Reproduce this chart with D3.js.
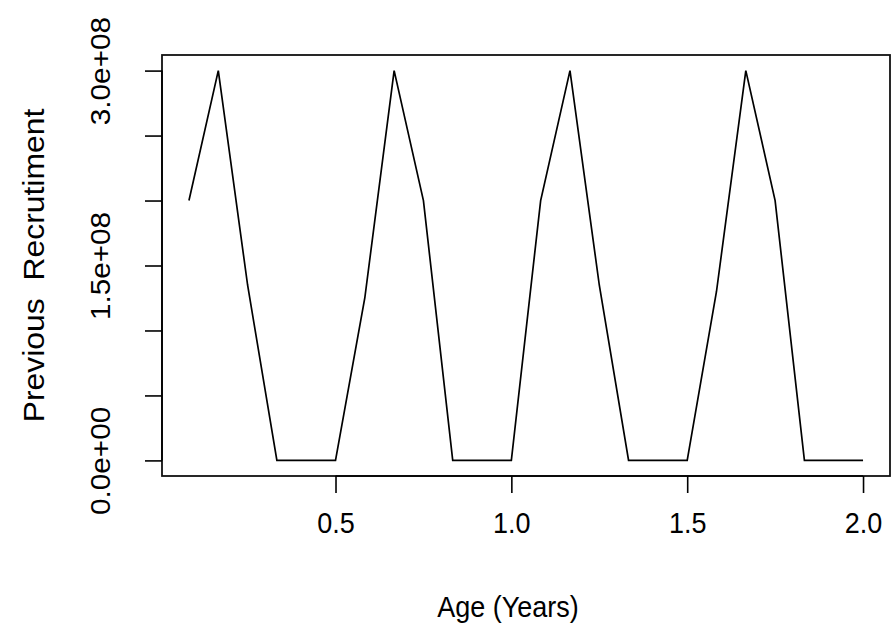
<!DOCTYPE html>
<html>
<head>
<meta charset="utf-8">
<script src="https://cdn.jsdelivr.net/npm/d3@7"></script>
<style>
  html, body { margin: 0; padding: 0; background: #fff; }
  svg { display: block; }
  text { font-family: "Liberation Sans", Arial, sans-serif; fill: #000; }
</style>
</head>
<body>
<svg id="chart" width="892" height="637"></svg>
<script>
// Monthly ages (years) and recruitment carried over from the previous step
const ages = [0.0833, 0.1667, 0.25, 0.3333, 0.4167, 0.5,
              0.5833, 0.6667, 0.75, 0.8333, 0.9167, 1.0,
              1.0833, 1.1667, 1.25, 1.3333, 1.4167, 1.5,
              1.5833, 1.6667, 1.75, 1.8333, 1.9167, 2.0];
const recruitment = [2.0e8, 3.0e8, 1.35e8, 0, 0, 0,
                     1.25e8, 3.0e8, 2.0e8, 0, 0, 0,
                     2.0e8, 3.0e8, 1.35e8, 0, 0, 0,
                     1.3e8, 3.0e8, 2.0e8, 0, 0, 0];

const xTicks = [0.5, 1.0, 1.5, 2.0];
const xTickLabels = ["0.5", "1.0", "1.5", "2.0"];
const yTicks = [0, 5e7, 1e8, 1.5e8, 2e8, 2.5e8, 3e8];
const yTickLabels = ["0.0e+00", "", "", "1.5e+08", "", "", "3.0e+08"];

const xTitle = "Age (Years)";
const yTitle = "Previous  Recrutiment";

const svg = d3.select("#chart");
const box = { left: 162, right: 890, top: 55, bottom: 476 };

// Axis ranges padded by 4% on each side
function padded(lo, hi) {
  const p = (hi - lo) * 0.04;
  return [lo - p, hi + p];
}
const x = d3.scaleLinear()
  .domain(padded(d3.min(ages), d3.max(ages)))
  .range([box.left, box.right]);
const y = d3.scaleLinear()
  .domain(padded(0, d3.max(recruitment)))
  .range([box.bottom, box.top]);

svg.append("rect").attr("width", 892).attr("height", 637).attr("fill", "#fff");

// Data line
const line = d3.line().x((d, i) => x(ages[i])).y(d => y(d));
svg.append("path")
  .datum(recruitment)
  .attr("d", line)
  .attr("fill", "none")
  .attr("stroke", "#000")
  .attr("stroke-width", 1.7)
  .attr("stroke-linejoin", "miter");

// Plot frame
svg.append("rect")
  .attr("x", box.left).attr("y", box.top)
  .attr("width", box.right - box.left).attr("height", box.bottom - box.top)
  .attr("fill", "none").attr("stroke", "#111").attr("stroke-width", 1.8);

const tickLen = 17;
const fontSize = 27;
const stretch = 1.1;   // glyphs are drawn a little taller than wide

// Bottom axis
const xAxis = d3.axisBottom(x)
  .tickValues(xTicks)
  .tickSize(tickLen)
  .tickPadding(0)
  .tickFormat((d, i) => xTickLabels[i]);
const gx = svg.append("g").attr("transform", `translate(0,${box.bottom})`).call(xAxis);
gx.select(".domain")
  .attr("d", `M${x(xTicks[0])},0H${x(xTicks[xTicks.length - 1])}`)
  .attr("stroke", "#000").attr("stroke-width", 1.6);
gx.selectAll(".tick line").attr("stroke", "#000").attr("stroke-width", 1.6);
gx.selectAll(".tick text")
  .style("font-size", fontSize + "px")
  .attr("y", null).attr("dy", null)
  .attr("transform", `translate(0,57) scale(1,${stretch})`);

// Left axis with rotated labels
const yAxis = d3.axisLeft(y)
  .tickValues(yTicks)
  .tickSize(tickLen)
  .tickFormat((d, i) => yTickLabels[i]);
const gy = svg.append("g").attr("transform", `translate(${box.left},0)`).call(yAxis);
gy.select(".domain")
  .attr("d", `M0,${y(yTicks[0])}V${y(yTicks[yTicks.length - 1])}`)
  .attr("stroke", "#000").attr("stroke-width", 1.6);
gy.selectAll(".tick line").attr("stroke", "#000").attr("stroke-width", 1.6);
gy.selectAll(".tick text")
  .style("font-size", fontSize + "px")
  .attr("x", null).attr("dy", null)
  .attr("text-anchor", "middle")
  .attr("transform", `translate(-52,0) rotate(-90) scale(${stretch},1)`);

svg.selectAll(".tick text").style("fill", "#000");

// Axis titles
svg.append("text")
  .attr("transform", `translate(508,617) scale(1,${stretch})`)
  .attr("text-anchor", "middle")
  .style("font-size", fontSize + "px")
  .text(xTitle);

svg.append("text")
  .attr("transform", `translate(44,${(box.top + box.bottom) / 2}) rotate(-90) scale(${stretch},1)`)
  .attr("text-anchor", "middle")
  .style("font-size", "29px")
  .style("white-space", "pre")
  .text(yTitle);
</script>
</body>
</html>
